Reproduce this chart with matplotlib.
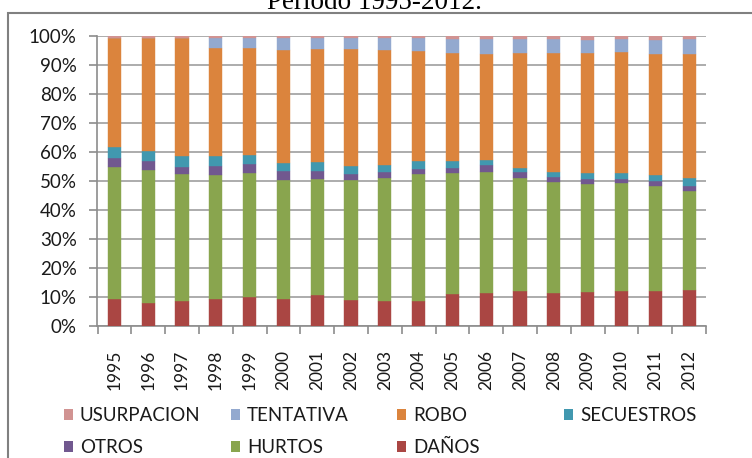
import matplotlib
matplotlib.use("Agg")
import matplotlib.pyplot as plt
import numpy as np
from matplotlib.patches import Rectangle, Patch
from matplotlib.ticker import FixedLocator, PercentFormatter

years = [str(y) for y in range(1995, 2013)]

danos      = [9.3, 7.9, 8.6, 9.3, 10.0, 9.3, 10.7, 9.0, 8.6, 8.6, 11.0, 11.4, 12.1, 11.4, 11.7, 12.1, 12.1, 12.4]
hurtos     = [45.5, 45.9, 43.8, 42.8, 42.8, 41.0, 40.0, 41.3, 42.4, 43.8, 41.8, 41.7, 38.9, 38.3, 37.3, 37.2, 36.2, 34.2]
otros      = [3.2, 3.1, 2.4, 3.1, 3.1, 3.1, 2.7, 2.1, 2.1, 1.7, 1.7, 2.4, 2.1, 1.7, 1.7, 1.4, 1.7, 1.7]
secuestros = [3.7, 3.4, 3.9, 3.5, 3.1, 2.8, 3.2, 2.8, 2.4, 2.8, 2.4, 1.7, 1.5, 1.7, 2.1, 2.1, 2.1, 2.7]
robo       = [37.7, 39.1, 40.7, 37.2, 36.9, 39.0, 38.9, 40.3, 39.7, 37.9, 37.2, 36.6, 39.5, 41.0, 41.3, 41.7, 41.7, 42.8]
tentativa  = [0.0, 0.0, 0.0, 3.5, 3.5, 4.2, 3.9, 3.9, 4.2, 4.6, 4.9, 5.2, 4.9, 4.9, 4.5, 4.5, 4.8, 5.2]
usurpacion = [0.6, 0.6, 0.6, 0.6, 0.6, 0.6, 0.6, 0.6, 0.6, 0.6, 1.0, 1.0, 1.0, 1.0, 1.4, 1.0, 1.4, 1.0]

series_names = ["DAÑOS", "HURTOS", "OTROS", "SECUESTROS", "ROBO", "TENTATIVA", "USURPACION"]
series_vals = [danos, hurtos, otros, secuestros, robo, tentativa, usurpacion]
colors = ["#AA4643", "#89A54E", "#71588F", "#4198AF", "#DB843D", "#93A9CF", "#D19392"]

FONT = "Lato"
plt.rcParams["font.family"] = [FONT, "DejaVu Sans"]

W, H = 752, 458
fig = plt.figure(figsize=(W / 100, H / 100), dpi=100)

# axes area in pixels
left, right, top, bottom = 97.5, 706, 36, 326
ax = fig.add_axes([left / W, 1 - bottom / H, (right - left) / W, (bottom - top) / H])

data = np.array(series_vals, dtype=float)
pct = data / data.sum(axis=0) * 100
x = np.arange(len(years))
base = np.zeros(len(years))
for name, vals, c in zip(series_names, pct, colors):
    ax.bar(x, vals, bottom=base, width=0.39, color=c, label=name, zorder=3,
           edgecolor=c, linewidth=0.3)
    base += vals

ax.set_xlim(-0.5, len(years) - 0.5)
ax.set_ylim(0, 100)
ax.yaxis.set_major_locator(FixedLocator(np.arange(0, 101, 10)))
ax.yaxis.set_major_formatter(PercentFormatter(decimals=0))
ax.grid(axis="y", color="#A6A6A6", linewidth=1.3, zorder=0)
ax.set_axisbelow(True)

ax.set_xticks(x)
ax.set_xticklabels(years, rotation=90, fontsize=12.5, color="#1a1a1a")
ax.tick_params(axis="x", which="major", length=0, pad=17)
ax.set_xticks(np.arange(-0.5, len(years)), minor=True)
ax.tick_params(axis="x", which="minor", length=6, width=1.2, color="#8C8C8C", direction="out")
ax.tick_params(axis="y", length=6, width=1.2, color="#8C8C8C", pad=9,
               labelsize=13.5, labelcolor="#1a1a1a")

for s in ["top", "right"]:
    ax.spines[s].set_visible(False)
for s in ["left", "bottom"]:
    ax.spines[s].set_color("#8C8C8C")
    ax.spines[s].set_linewidth(1.2)

# outer chart frame (extends beyond figure at right/bottom)
frame = Rectangle((8 / W, -0.1), 1.2, 1 - 13 / H + 0.1, transform=fig.transFigure,
                  fill=False, edgecolor="#808080", linewidth=1.5, clip_on=False)
fig.patches.append(frame)

# title (partially cut at top, as in the reference)
fig.text(374 / W, 1 - 9 / H, "Periodo 1995-2012.", ha="center", va="baseline",
         fontsize=19.5, family="Liberation Serif", color="black")

# legend: 4 columns with fixed spacing
handles = {n: Patch(facecolor=c, edgecolor="none") for n, c in zip(series_names, colors)}
columns = [["USURPACION", "OTROS"], ["TENTATIVA", "HURTOS"], ["ROBO", "DAÑOS"], ["SECUESTROS"]]
col_x = [64, 231, 397, 564]
for cx, names in zip(col_x, columns):
    fig.legend([handles[n] for n in names], names, loc="upper left",
               bbox_to_anchor=(cx / W, 1 - 407 / H), frameon=False,
               fontsize=13.5, handlelength=0.5, handleheight=0.5,
               handletextpad=0.35, labelspacing=0.8, borderpad=0,
               borderaxespad=0, labelcolor="#1a1a1a")

fig.savefig("out.png", dpi=100)
